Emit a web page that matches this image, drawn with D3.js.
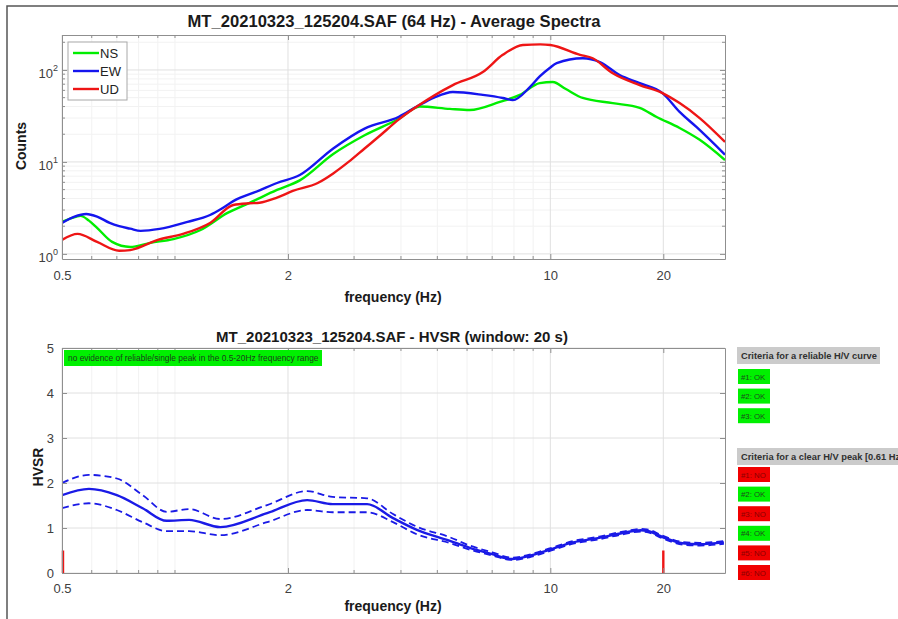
<!DOCTYPE html>
<html lang="en">
<head>
<meta charset="UTF-8">
<title>MT_20210323_125204.SAF - Spectra and HVSR</title>
<script src="https://d3js.org/d3.v7.min.js"></script>
<style>
  body { margin: 0; background: #fff; }
  svg { display: block; font-family: "Liberation Sans", Arial, Helvetica, sans-serif; }
  .axis path, .axis line { stroke: #8f8f8f; }
  .axis text { fill: #404040; font-size: 13px; font-family: "Liberation Sans", Arial, sans-serif; }
</style>
</head>
<body>
<svg id="chart" width="898" height="619"></svg>
<script>
// ---- data ----
const nsFreq = [0.5, 0.53, 0.56, 0.59, 0.62, 0.68, 0.76, 0.86, 0.99, 1.17, 1.38, 1.58, 1.87, 2.15, 2.64, 3.2, 3.95, 4.49, 5.4, 6.1, 7.34, 8.29, 9.37, 10.15, 11.0, 12.2, 14.67, 17.3, 19.2, 22.1, 25, 29.2];
const nsCounts = [2.23, 2.45, 2.59, 2.3, 1.92, 1.35, 1.19, 1.32, 1.45, 1.82, 2.79, 3.59, 4.96, 6.3, 12.2, 19.5, 29.5, 40, 37.7, 36.7, 45, 53.6, 72, 74, 62, 49.6, 43.6, 38.7, 30.8, 23.4, 17.4, 10.5];

const ewFreq = [0.5, 0.54, 0.58, 0.62, 0.67, 0.71, 0.76, 0.81, 0.91, 1.08, 1.24, 1.33, 1.43, 1.68, 1.87, 2.15, 2.64, 3.2, 3.95, 4.41, 4.9, 5.5, 6.61, 7.47, 7.94, 8.82, 9.37, 9.96, 10.4, 12.2, 13.55, 15.3, 17.3, 19.9, 22.1, 24.5, 29.2];
const ewCounts = [2.17, 2.55, 2.72, 2.55, 2.17, 2.0, 1.88, 1.78, 1.87, 2.23, 2.65, 3.1, 3.75, 4.9, 5.9, 7.2, 14, 23, 31, 40, 50, 57.6, 53.6, 49.6, 47, 65, 85, 105, 119, 134, 122, 88, 72, 56, 35, 24, 12];

const udFreq = [0.5, 0.55, 0.62, 0.71, 0.76, 0.9, 1.05, 1.24, 1.43, 1.58, 1.68, 1.87, 2.06, 2.4, 2.64, 2.9, 3.2, 3.5, 3.95, 4.41, 5.5, 6.61, 7.47, 8.45, 9.4, 10.0, 12.0, 12.97, 14.67, 17.3, 19.9, 22.1, 25, 29.2];
const udCounts = [1.42, 1.65, 1.35, 1.08, 1.1, 1.42, 1.65, 2.17, 3.4, 3.55, 3.6, 4.1, 4.83, 5.9, 7.5, 10, 14, 19, 29, 40, 68.5, 95, 146, 187, 190, 187, 146, 134, 92, 68.5, 56, 43.6, 30, 16.5];

const hvFreq  = [0.5, 0.59, 0.7, 0.82, 0.95, 1.09, 1.32, 1.76, 2.25, 2.63, 3.25, 3.81, 4.41, 5.38, 6.1, 7.0, 7.9, 8.8, 9.9, 11.5, 13.5, 15.6, 17.4, 18.1, 19.9, 22.5, 25, 29];
const hvMean  = [1.73, 1.87, 1.73, 1.44, 1.16, 1.18, 1.02, 1.33, 1.62, 1.53, 1.53, 1.22, 0.96, 0.72, 0.56, 0.42, 0.31, 0.38, 0.51, 0.68, 0.78, 0.89, 0.95, 0.94, 0.80, 0.66, 0.64, 0.68];
const hvUpper = [2.00, 2.18, 2.10, 1.73, 1.36, 1.42, 1.20, 1.51, 1.82, 1.69, 1.66, 1.31, 1.03, 0.80, 0.61, 0.46, 0.34, 0.41, 0.54, 0.71, 0.81, 0.92, 0.98, 0.97, 0.83, 0.69, 0.67, 0.71];
const hvLower = [1.44, 1.55, 1.40, 1.13, 0.93, 0.93, 0.84, 1.13, 1.40, 1.35, 1.35, 1.13, 0.86, 0.67, 0.52, 0.39, 0.29, 0.35, 0.48, 0.65, 0.75, 0.86, 0.92, 0.91, 0.77, 0.63, 0.61, 0.65];

const peakMarkers = [0.5, 20];

const xTicks = [0.5, 2, 10, 20];
const xMinor = [0.6, 0.7, 0.8, 0.9, 1, 3, 4, 5, 6, 7, 8, 9];
const yTicksTop = [1, 10, 100];
const yTicksBot = [0, 1, 2, 3, 4, 5];

const seriesNames = ["NS", "EW", "UD"];
const seriesColors = ["#00ee00", "#1515ee", "#ee1515"];

const reliableLabels = ["#1: OK", "#2: OK", "#3: OK"];
const reliableOk = [true, true, true];
const peakLabels = ["#1: NO", "#2: OK", "#3: NO", "#4: OK", "#5: NO", "#6: NO"];
const peakOk = [false, true, false, true, false, false];

const svg = d3.select("#chart");
svg.append("rect").attr("width", 898).attr("height", 619).attr("fill", "#fff");

// outer frame (only top and left edges show)
svg.append("path").attr("d", "M7,619V6H898").attr("fill", "none")
  .attr("stroke", "#555").attr("stroke-width", 1.5);

const X0 = 62, X1 = 725;
const xScale = d3.scaleLog().domain([0.5, 29.2]).range([X0, X1]);

// ---------- top panel: average spectra ----------
const T0 = 35, T1 = 259;
const yTop = d3.scaleLog().domain([0.88, 240]).range([T1, T0]);
const yMinorTop = [];
[1, 10, 100].forEach(d => { for (let k = 2; k <= 9; k++) if (d * k < 240) yMinorTop.push(d * k); });

const gTop = svg.append("g");
gTop.selectAll(".mxg").data(xMinor).join("line")
  .attr("x1", d => xScale(d)).attr("x2", d => xScale(d)).attr("y1", T0).attr("y2", T1)
  .attr("stroke", "#f2f2f2");
gTop.selectAll(".myg").data(yMinorTop).join("line")
  .attr("x1", X0).attr("x2", X1).attr("y1", d => yTop(d)).attr("y2", d => yTop(d))
  .attr("stroke", "#f2f2f2");
gTop.selectAll(".xg").data(xTicks).join("line")
  .attr("x1", d => xScale(d)).attr("x2", d => xScale(d)).attr("y1", T0).attr("y2", T1)
  .attr("stroke", "#e0e0e0");
gTop.selectAll(".yg").data(yTicksTop).join("line")
  .attr("x1", X0).attr("x2", X1).attr("y1", d => yTop(d)).attr("y2", d => yTop(d))
  .attr("stroke", "#e0e0e0");

svg.append("clipPath").attr("id", "clipTop").append("rect")
  .attr("x", X0).attr("y", T0).attr("width", X1 - X0).attr("height", T1 - T0);

const specLine = d3.line().x(d => xScale(d[0])).y(d => yTop(d[1])).curve(d3.curveMonotoneX);
const spectra = [d3.zip(nsFreq, nsCounts), d3.zip(ewFreq, ewCounts), d3.zip(udFreq, udCounts)];
gTop.append("g").attr("clip-path", "url(#clipTop)")
  .selectAll("path").data(spectra).join("path")
  .attr("d", specLine).attr("fill", "none")
  .attr("stroke", (d, i) => seriesColors[i]).attr("stroke-width", 2.4);

function styleAxis(g) {
  g.attr("class", "axis");
  g.selectAll("path, line").attr("stroke", "#8f8f8f");
}

svg.append("g").attr("transform", `translate(0,${T1})`)
  .call(d3.axisBottom(xScale).tickValues(xTicks).tickFormat(d => String(d))
    .tickSizeInner(-5).tickSizeOuter(0).tickPadding(12)).call(styleAxis);
svg.append("g").attr("transform", `translate(0,${T0})`)
  .call(d3.axisTop(xScale).tickValues(xTicks).tickFormat("").tickSizeInner(-5).tickSizeOuter(0))
  .call(styleAxis);
svg.append("g").attr("transform", `translate(${X0},0)`)
  .call(d3.axisLeft(yTop).tickValues(yTicksTop).tickFormat("").tickSizeInner(-5).tickSizeOuter(0))
  .call(styleAxis);
svg.append("g").attr("transform", `translate(${X1},0)`)
  .call(d3.axisRight(yTop).tickValues(yTicksTop).tickFormat("").tickSizeInner(-5).tickSizeOuter(0))
  .call(styleAxis);

// minor ticks
function minorTicks(g, xs, ys, yScale, top, bottom) {
  xs.forEach(v => {
    g.append("line").attr("x1", xScale(v)).attr("x2", xScale(v)).attr("y1", bottom).attr("y2", bottom - 3).attr("stroke", "#8f8f8f");
    g.append("line").attr("x1", xScale(v)).attr("x2", xScale(v)).attr("y1", top).attr("y2", top + 3).attr("stroke", "#8f8f8f");
  });
  ys.forEach(v => {
    g.append("line").attr("x1", X0).attr("x2", X0 + 3).attr("y1", yScale(v)).attr("y2", yScale(v)).attr("stroke", "#8f8f8f");
    g.append("line").attr("x1", X1).attr("x2", X1 - 3).attr("y1", yScale(v)).attr("y2", yScale(v)).attr("stroke", "#8f8f8f");
  });
}
minorTicks(svg.append("g"), xMinor, yMinorTop, yTop, T0, T1);

// log labels with superscripts
const yLab = svg.append("g").attr("fill", "#404040").attr("font-size", 13);
yTicksTop.forEach(v => {
  const t = yLab.append("text").attr("x", 58).attr("y", yTop(v) + 8).attr("text-anchor", "end");
  t.append("tspan").text("10");
  t.append("tspan").attr("dy", -7).attr("font-size", 9).text(Math.round(Math.log10(v)));
});

// legend
const leg = svg.append("g");
leg.append("rect").attr("x", 68).attr("y", 42).attr("width", 59).attr("height", 58)
  .attr("fill", "#fff").attr("stroke", "#a8a8a8");
seriesNames.forEach((name, i) => {
  const y = 53 + i * 18;
  leg.append("line").attr("x1", 73).attr("x2", 99).attr("y1", y).attr("y2", y)
    .attr("stroke", seriesColors[i]).attr("stroke-width", 2.4);
  leg.append("text").attr("x", 100).attr("y", y + 5).attr("font-size", 13).attr("fill", "#222").text(name);
});

svg.append("text").attr("x", 394).attr("y", 27).attr("text-anchor", "middle")
  .attr("font-size", 16.6).attr("font-weight", "bold").attr("fill", "#1a1a1a")
  .text("MT_20210323_125204.SAF (64 Hz) - Average Spectra");
svg.append("text").attr("x", 393).attr("y", 302).attr("text-anchor", "middle")
  .attr("font-size", 14).attr("font-weight", "bold").attr("fill", "#1a1a1a").text("frequency (Hz)");
svg.append("text").attr("transform", "translate(26,146) rotate(-90)").attr("text-anchor", "middle")
  .attr("font-size", 14).attr("font-weight", "bold").attr("fill", "#1a1a1a").text("Counts");

// ---------- bottom panel: HVSR ----------
const B0 = 348, B1 = 573;
const yBot = d3.scaleLinear().domain([0, 5]).range([B1, B0]);
const gBot = svg.append("g");
gBot.selectAll(".mxg").data(xMinor).join("line")
  .attr("x1", d => xScale(d)).attr("x2", d => xScale(d)).attr("y1", B0).attr("y2", B1)
  .attr("stroke", "#f2f2f2");
gBot.selectAll(".xg").data(xTicks).join("line")
  .attr("x1", d => xScale(d)).attr("x2", d => xScale(d)).attr("y1", B0).attr("y2", B1)
  .attr("stroke", "#e0e0e0");
gBot.selectAll(".yg").data(yTicksBot).join("line")
  .attr("x1", X0).attr("x2", X1).attr("y1", d => yBot(d)).attr("y2", d => yBot(d))
  .attr("stroke", "#e0e0e0");

svg.append("clipPath").attr("id", "clipBot").append("rect")
  .attr("x", X0).attr("y", B0).attr("width", X1 - X0).attr("height", B1 - B0);

const hvLine = d3.line().x(d => xScale(d[0])).y(d => yBot(d[1])).curve(d3.curveMonotoneX);
const hvG = gBot.append("g").attr("clip-path", "url(#clipBot)");
[hvUpper, hvLower].forEach(vals => {
  hvG.append("path").attr("d", hvLine(d3.zip(hvFreq, vals))).attr("fill", "none")
    .attr("stroke", "#1a1ae6").attr("stroke-width", 1.8).attr("stroke-dasharray", "7,4");
});
hvG.append("path").attr("d", hvLine(d3.zip(hvFreq, hvMean))).attr("fill", "none")
  .attr("stroke", "#1a1ae6").attr("stroke-width", 2.4);

// red frequency-range markers
gBot.selectAll(".mk").data(peakMarkers).join("line")
  .attr("x1", d => xScale(d) + (d === 0.5 ? 1 : 0)).attr("x2", d => xScale(d) + (d === 0.5 ? 1 : 0))
  .attr("y1", yBot(0)).attr("y2", yBot(0.5))
  .attr("stroke", "#ee1515").attr("stroke-width", 2.4);

svg.append("g").attr("transform", `translate(0,${B1})`)
  .call(d3.axisBottom(xScale).tickValues(xTicks).tickFormat(d => String(d))
    .tickSizeInner(-5).tickSizeOuter(0).tickPadding(11)).call(styleAxis);
svg.append("g").attr("transform", `translate(0,${B0})`)
  .call(d3.axisTop(xScale).tickValues(xTicks).tickFormat("").tickSizeInner(-5).tickSizeOuter(0))
  .call(styleAxis);
svg.append("g").attr("transform", `translate(${X0},0)`)
  .call(d3.axisLeft(yBot).tickValues(yTicksBot).tickFormat(d => String(d))
    .tickSizeInner(-5).tickSizeOuter(0).tickPadding(8)).call(styleAxis);
svg.append("g").attr("transform", `translate(${X1},0)`)
  .call(d3.axisRight(yBot).tickValues(yTicksBot).tickFormat("").tickSizeInner(-5).tickSizeOuter(0))
  .call(styleAxis);
minorTicks(svg.append("g"), xMinor, [], yBot, B0, B1);

// note box inside the HVSR axes
svg.append("rect").attr("x", 64).attr("y", 350).attr("width", 258).attr("height", 16).attr("fill", "#00f000");
svg.append("text").attr("x", 68).attr("y", 361).attr("font-size", 8.4).attr("fill", "#1d3d1d")
  .text("no evidence of reliable/single peak in the 0.5-20Hz frequency range");

svg.append("text").attr("x", 392).attr("y", 342).attr("text-anchor", "middle")
  .attr("font-size", 15).attr("font-weight", "bold").attr("fill", "#1a1a1a")
  .text("MT_20210323_125204.SAF - HVSR (window: 20 s)");
svg.append("text").attr("x", 393).attr("y", 611).attr("text-anchor", "middle")
  .attr("font-size", 14).attr("font-weight", "bold").attr("fill", "#1a1a1a").text("frequency (Hz)");
svg.append("text").attr("transform", "translate(43,467) rotate(-90)").attr("text-anchor", "middle")
  .attr("font-size", 14).attr("font-weight", "bold").attr("fill", "#1a1a1a").text("HVSR");

// ---------- criteria panel ----------
const crit = svg.append("g");
function critHeader(y, w, label) {
  crit.append("rect").attr("x", 737).attr("y", y).attr("width", w).attr("height", 17).attr("fill", "#cbcbcb");
  crit.append("text").attr("x", 741).attr("y", y + 12).attr("font-size", 9.3).attr("font-weight", "bold")
    .attr("fill", "#303030").text(label);
}
function critBoxes(y0, labels, ok) {
  labels.forEach((lab, i) => {
    const y = y0 + i * 19.6;
    crit.append("rect").attr("x", 738).attr("y", y).attr("width", 32).attr("height", 15)
      .attr("fill", ok[i] ? "#00f000" : "#f00000");
    crit.append("text").attr("x", 741).attr("y", y + 10.5).attr("font-size", 7.8)
      .attr("fill", ok[i] ? "#1d4d1d" : "#8a0000").text(lab);
  });
}
critHeader(347, 143, "Criteria for a reliable H/V curve");
critBoxes(369, reliableLabels, reliableOk);
critHeader(448, 200, "Criteria for a clear H/V peak [0.61 Hz]");
critBoxes(467, peakLabels, peakOk);
</script>
</body>
</html>
